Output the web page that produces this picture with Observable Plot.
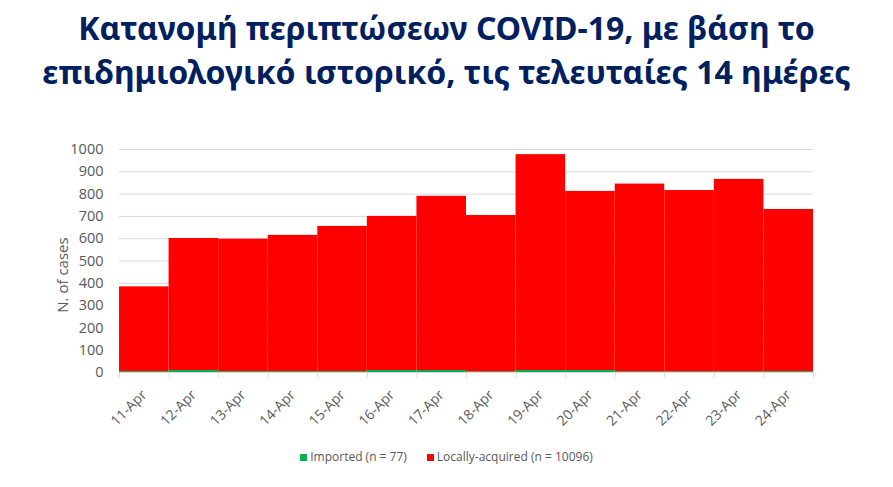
<!DOCTYPE html>
<html>
<head>
<meta charset="utf-8">
<script src="https://cdn.jsdelivr.net/npm/d3@7"></script>
<script src="https://cdn.jsdelivr.net/npm/@observablehq/plot@0.6"></script>
<style>
  html, body { margin: 0; padding: 0; background: #fff; }
  #wrap { position: relative; width: 893px; height: 487px; overflow: hidden; }
  #title { position: absolute; left: 0; top: 6px; width: 893px; text-align: center;
    font-family: "Noto Sans", "Open Sans", sans-serif; font-weight: 700; font-size: 32px;
    line-height: 44px; color: #002060; }
  #ylabel { position: absolute; left: 62px; top: 275px; transform: translate(-50%, -50%) rotate(-90deg);
    font-family: "Open Sans", "Noto Sans", sans-serif; font-size: 15px; color: #595959; white-space: nowrap; }
  #legend { position: absolute; left: 0; top: 448px; width: 893px; text-align: center;
    font-family: "Open Sans", "Noto Sans", sans-serif; font-size: 12px; color: #595959; }
  #legend span.item { margin: 0 10px; }
  #legend span.sw { display: inline-block; width: 7px; height: 7px; margin-right: 3px; vertical-align: 0px; }
  svg { position: absolute; left: 0; top: 0; }
</style>
</head>
<body>
<div id="wrap">
  <div id="title">Κατανομή περιπτώσεων COVID-19, με βάση το<br>επιδημιολογικό ιστορικό, τις τελευταίες 14 ημέρες</div>
  <div id="chart"></div>
  <div id="ylabel">N. of cases</div>
  <div id="legend"></div>
</div>
<script>
const dates = ["11-Apr","12-Apr","13-Apr","14-Apr","15-Apr","16-Apr","17-Apr","18-Apr","19-Apr","20-Apr","21-Apr","22-Apr","23-Apr","24-Apr"];
const imported = [4, 9, 4, 4, 4, 9, 9, 3, 9, 9, 3, 3, 3, 4];
const locallyAcquired = [380, 592, 594, 611, 651, 691, 781, 701, 968, 803, 842, 813, 863, 727];
const seriesNames = ["Imported (n = 77)", "Locally-acquired (n = 10096)"];
const seriesColors = ["#00B050", "#FF0000"];
const yTicks = [0, 100, 200, 300, 400, 500, 600, 700, 800, 900, 1000];

const rows = [];
dates.forEach((d, i) => {
  rows.push({date: d, series: seriesNames[0], value: imported[i]});
  rows.push({date: d, series: seriesNames[1], value: locallyAcquired[i]});
});

const W = 893, H = 487;
const mL = 119, mR = 80, mT = 149, mB = 115;
const bw = (W - mL - mR) / dates.length;

const plot = Plot.plot({
  width: W, height: H,
  marginLeft: mL, marginRight: mR, marginTop: mT, marginBottom: mB,
  style: {fontFamily: "'Open Sans', 'Noto Sans', sans-serif", background: "transparent"},
  x: {domain: dates, padding: 0, round: false, axis: null},
  y: {domain: [0, 1000], axis: null},
  color: {domain: seriesNames, range: seriesColors},
  marks: [
    Plot.ruleY(yTicks, {stroke: "#d9d9d9", strokeWidth: 1}),
    Plot.barY(rows, Plot.stackY({x: "date", y: "value", fill: "series", order: seriesNames})),
    Plot.ruleX(dates, {x: d => d, y1: 0, y2: -25, dx: -bw / 2, stroke: "#d9d9d9"}),
    Plot.ruleX([dates[dates.length - 1]], {x: d => d, y1: 0, y2: -25, dx: bw / 2, stroke: "#d9d9d9"}),
    Plot.text(yTicks, {x: () => dates[0], y: d => d, text: d => String(d), textAnchor: "end",
      dx: -bw / 2 - 16, fill: "#595959", fontSize: 14.5}),
    Plot.text(dates, {x: d => d, y: 0, text: d => d, textAnchor: "end", rotate: -45,
      dx: 0, dy: 20, fill: "#595959", fontSize: 14})
  ]
});
document.getElementById("chart").appendChild(plot);

const legend = document.getElementById("legend");
seriesNames.forEach((name, i) => {
  const item = document.createElement("span");
  item.className = "item";
  const sw = document.createElement("span");
  sw.className = "sw";
  sw.style.background = seriesColors[i];
  item.appendChild(sw);
  item.appendChild(document.createTextNode(name));
  legend.appendChild(item);
});
</script>
</body>
</html>
